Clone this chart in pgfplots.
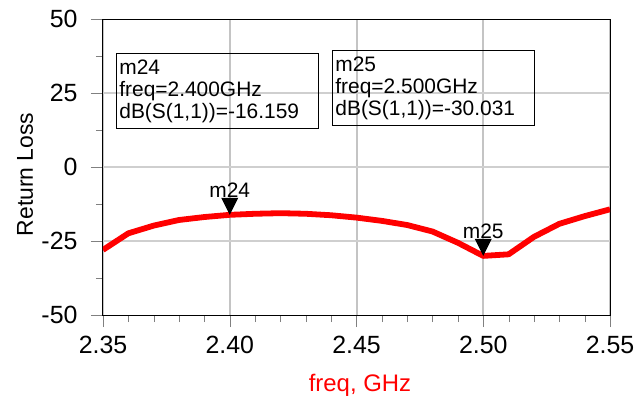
\documentclass[border=0pt]{standalone}
\usepackage{pgfplots}
\pgfplotsset{compat=1.18}
\usepackage{fontspec}
\setmainfont{Liberation Sans}
\definecolor{adsred}{HTML}{FF0000}
\definecolor{gridgray}{HTML}{C4C4C4}
\definecolor{hgridgray}{HTML}{CFCFCF}

% marker triangle with its tip on the data point
\pgfdeclareplotmark{tridown}{%
  \pgfpathmoveto{\pgfpoint{0bp}{0bp}}%
  \pgfpathlineto{\pgfpoint{-8.5bp}{17bp}}%
  \pgfpathlineto{\pgfpoint{8.5bp}{17bp}}%
  \pgfpathclose\pgfusepathqfill}

\begin{document}
\begin{tikzpicture}
\begin{axis}[
    name=ax,
    scale only axis,
    width=507bp, height=296bp,
    xmin=2.35, xmax=2.55, ymin=-50, ymax=50,
    xtick={2.35,2.40,2.45,2.50,2.55},
    ytick={-50,-25,0,25,50},
    minor x tick num=4,
    minor y tick num=1,
    tick align=outside, tick pos=left,
    major tick length=12bp, minor tick length=7bp,
    xmajorgrids=true,
    major grid style={solid, draw=gridgray, line width=2bp},
    axis line style={line width=1bp},
    /pgf/number format/assume math mode=true,
    xticklabel={\pgfmathprintnumber[fixed,fixed zerofill,precision=2]{\tick}},
    yticklabel={\pgfmathprintnumber[fixed,precision=0]{\tick}},
    ticklabel style={font=\fontsize{25}{30}\selectfont},
    xticklabel style={anchor=north, yshift=-6bp},
    yticklabel style={anchor=east, xshift=-10bp},
    xlabel={freq, GHz},
    xlabel style={at={(axis description cs:0.5069,-0.2365)}, anchor=center,
                  text=adsred, font=\fontsize{24}{28}\selectfont},
    ylabel={Return Loss},
    ylabel style={at={(axis description cs:-0.1538,0.4747)}, anchor=center,
                  font=\fontsize{23}{28}\selectfont},
]
% horizontal grid lines (slightly heavier than the vertical ones)
\addplot[hgridgray, line width=2.6bp, forget plot] coordinates {(2.35,25) (2.55,25)};
\addplot[hgridgray, line width=2.6bp, forget plot] coordinates {(2.35,0) (2.55,0)};
\addplot[hgridgray, line width=2.6bp, forget plot] coordinates {(2.35,-25) (2.55,-25)};
% dB(S(1,1)) trace
\addplot[adsred, line width=5.8bp, line join=round] coordinates {
    (2.35,-28.0) (2.36,-22.4) (2.37,-19.8) (2.38,-17.9) (2.39,-16.9)
    (2.40,-16.159) (2.41,-15.8) (2.42,-15.6) (2.43,-15.8) (2.44,-16.3)
    (2.45,-17.1) (2.46,-18.2) (2.47,-19.6) (2.48,-21.8) (2.49,-25.6)
    (2.50,-30.031) (2.51,-29.5) (2.52,-23.6) (2.53,-19.2) (2.54,-16.6)
    (2.55,-14.3)
};
% markers m24, m25
\addplot[only marks, mark=tridown, black,
    nodes near coords, point meta=explicit symbolic,
    nodes near coords style={anchor=south, yshift=16bp, inner sep=1bp,
        font=\fontsize{21}{22}\selectfont}]
    coordinates {(2.40,-16.159) [m24] (2.50,-30.031) [m25]};

\node[draw=black, line width=0.8bp, anchor=north west, align=left,
      text width=196bp, inner xsep=3bp, inner ysep=0bp, minimum height=75bp,
      font=\fontsize{21}{22}\selectfont]
    at (rel axis cs:0.0256,0.885) {m24\\freq=2.400GHz\\dB(S(1,1))=-16.159};
\node[draw=black, line width=0.8bp, anchor=north west, align=left,
      text width=196bp, inner xsep=3bp, inner ysep=0bp, minimum height=75bp,
      font=\fontsize{21}{22}\selectfont]
    at (rel axis cs:0.4517,0.895) {m25\\freq=2.500GHz\\dB(S(1,1))=-30.031};
\end{axis}
\pgfresetboundingbox
\path ([shift={(-103bp,-88bp)}]ax.south west) rectangle ++(637bp,403bp);
\end{tikzpicture}
\end{document}
